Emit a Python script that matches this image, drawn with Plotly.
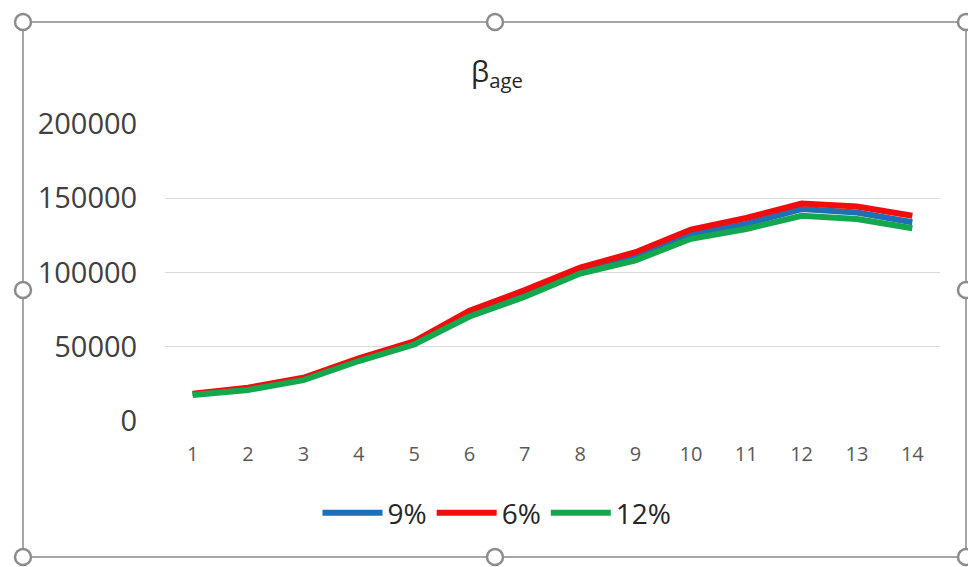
import plotly.graph_objects as go

categories = [str(i) for i in range(1, 15)]
s9 = [18000, 21500, 28200, 41300, 52700, 72700, 86000, 101600, 111000, 125600, 132700, 142700, 140400, 133800]
s6 = [18400, 22400, 29100, 42200, 53700, 74200, 88200, 103300, 113700, 128900, 136700, 146400, 144400, 138200]
s12 = [17500, 20900, 27500, 40400, 51500, 70400, 83700, 99300, 108200, 122700, 129300, 138200, 136000, 129800]
y_ticks = [0, 50000, 100000, 150000, 200000]

W, H = 968, 567
L, R, T, B = 165, 940, 124, 421

fig = go.Figure()
fig.add_trace(go.Scatter(x=categories, y=s9, name="9%", mode="lines",
                         line=dict(color="#1F6FB8", width=6)))
fig.add_trace(go.Scatter(x=categories, y=s6, name="6%", mode="lines",
                         line=dict(color="#F00D0D", width=6)))
fig.add_trace(go.Scatter(x=categories, y=s12, name="12%", mode="lines",
                         line=dict(color="#14A84E", width=6)))

def px(x):
    return (x - L) / (R - L)

def py(y):
    return (B - y) / (B - T)

shapes = []
# chart-area frame
shapes.append(dict(type="rect", xref="paper", yref="paper",
                   x0=px(23), x1=px(966), y0=py(557), y1=py(22),
                   line=dict(color="#A6A6A6", width=2), layer="below"))
# selection handles
r = 8
for cx, cy in [(23, 22), (495, 22), (966, 22), (23, 290), (966, 290),
               (23, 557), (495, 557), (966, 557)]:
    shapes.append(dict(type="circle", xref="paper", yref="paper",
                       x0=px(cx - r), x1=px(cx + r), y0=py(cy + r), y1=py(cy - r),
                       line=dict(color="#8C8C8C", width=2.5), fillcolor="white"))

fig.update_layout(
    width=W, height=H,
    margin=dict(l=L, r=W - R, t=T, b=H - B),
    paper_bgcolor="white", plot_bgcolor="white",
    font=dict(family="Open Sans", color="#404040"),
    title=dict(text="β<sub>age</sub>", xref="container", x=497 / W, xanchor="center",
               yref="container", y=1 - 72 / H, yanchor="middle",
               font=dict(size=29, color="#262626")),
    showlegend=True,
    legend=dict(orientation="h", xref="container", yref="container",
                x=497 / W, xanchor="center", y=1 - 513 / H, yanchor="middle",
                font=dict(size=28, color="#262626"), itemwidth=60,
                bgcolor="rgba(0,0,0,0)"),
    xaxis=dict(type="category", range=[-0.5, len(categories) - 0.5],
               showgrid=False, zeroline=False, showline=False,
               ticks="outside", ticklen=15, tickcolor="rgba(0,0,0,0)",
               tickfont=dict(size=20, color="#595959")),
    yaxis=dict(range=[0, 200000], tickvals=y_ticks, tickformat="d",
               showgrid=True, gridcolor="#D9D9D9", gridwidth=1,
               zeroline=False, showline=False,
               ticks="outside", ticklen=21, tickcolor="rgba(0,0,0,0)",
               tickfont=dict(size=29, color="#404040")),
    shapes=shapes,
)

fig.write_html("out.html", config={"displayModeBar": False},
               post_script="document.body.style.margin='0px';document.body.style.overflow='hidden';")
